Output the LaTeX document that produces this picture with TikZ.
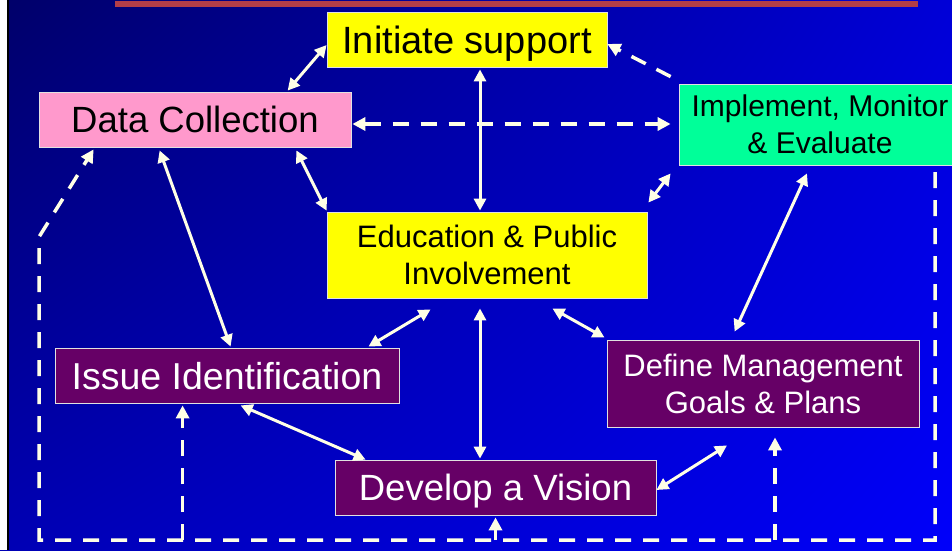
\documentclass[tikz,border=0pt]{standalone}
\usepackage{fontspec}
\setmainfont{Liberation Sans}
\usetikzlibrary{arrows.meta,shadings}
\definecolor{bgTL}{RGB}{0,0,105}
\definecolor{bgTR}{RGB}{0,0,215}
\definecolor{bgBL}{RGB}{0,0,180}
\definecolor{bgBR}{RGB}{0,0,250}
\definecolor{topred}{RGB}{178,62,72}
\definecolor{boxyellow}{RGB}{255,255,0}
\definecolor{boxpink}{RGB}{255,153,204}
\definecolor{boxgreen}{RGB}{0,255,153}
\definecolor{boxpurple}{RGB}{102,0,102}
\definecolor{arrowc}{RGB}{255,255,230}
\definecolor{boxedge}{RGB}{225,225,225}
\begin{document}
\begin{tikzpicture}[x=1pt,y=-1pt,
  box/.style={draw=boxedge,line width=0.8pt,inner sep=0pt,align=center},
  bigfont/.style={font=\fontsize{36.5}{42}\selectfont,text height=26pt,text depth=0pt},
  midfont/.style={font=\fontsize{#1}{37}\selectfont},
  link/.style={draw=arrowc,line width=3pt,{Triangle[length=12pt,width=12pt]}-{Triangle[length=12pt,width=12pt]}},
  dlink/.style={draw=arrowc,line width=3.5pt,dash pattern=on 16pt off 12pt,-{Triangle[length=13pt,width=13pt]}},
  dlinkboth/.style={draw=arrowc,line width=3.5pt,dash pattern=on 16pt off 12pt,{Triangle[length=13pt,width=13pt]}-{Triangle[length=13pt,width=13pt]}}]
\useasboundingbox (0,0) rectangle (952,550);
\clip (0,0) rectangle (952,550);
\shade[upper left=bgTL,upper right=bgTR,lower left=bgBL,lower right=bgBR] (0,0) rectangle (952,550);
\fill[white] (0,0) rectangle (7,550);
\fill[black] (7,0) rectangle (9,550);
\draw[topred,line width=6pt] (115,4) -- (918,4);

\node[box,fill=boxyellow,font=\fontsize{38}{42}\selectfont,text height=27pt,text depth=0pt,minimum width=280pt,minimum height=55pt] (init) at (467,39.5) {Initiate support};
\node[box,fill=boxpink,bigfont,minimum width=312pt,minimum height=55pt] (data) at (195,119.5) {Data Collection};
\node[box,fill=boxgreen,midfont=30,minimum width=282pt,minimum height=81pt] (impl) at (820,124.5) {Implement, Monitor\\\& Evaluate};
\node[box,fill=boxyellow,midfont=31,minimum width=320pt,minimum height=86pt] (edu) at (487,255) {Education \& Public\\Involvement};
\node[box,fill=boxpurple,text=white,font=\fontsize{37.5}{42}\selectfont,text height=27pt,text depth=0pt,minimum width=344pt,minimum height=55pt] (issue) at (227,375.5) {Issue Identification};
\node[box,fill=boxpurple,text=white,midfont=31,minimum width=312pt,minimum height=87pt] (define) at (763,383.5) {Define Management\\Goals \& Plans};
\node[box,fill=boxpurple,text=white,bigfont,minimum width=321pt,minimum height=55pt] (vision) at (495.5,487.5) {Develop a Vision};

% solid two-way connectors
\draw[link] ([shift={(0,5.5)}]init.west) -- ([shift={(249,-1)}]data.north west);
\draw[link] ([shift={(13,2)}]init.south) -- ([shift={(-7,-1)}]edu.north);
\draw[link] ([shift={(-55,3)}]data.south east) -- ([shift={(0,-1)}]edu.north west);
\draw[link] ([shift={(121,3)}]data.south west) -- ([shift={(176,-1)}]issue.north west);
\draw[link] ([shift={(1,-9)}]edu.north east) -- ([shift={(-8,8)}]impl.south west);
\draw[link] ([shift={(128,-8)}]define.north west) -- ([shift={(-13,8)}]impl.south);
\draw[link] ([shift={(104,11)}]edu.south west) -- ([shift={(-31,-1)}]issue.north east);
\draw[link] ([shift={(-7,10)}]edu.south) -- ([shift={(-15.5,-1)}]vision.north);
\draw[link] ([shift={(-95,10)}]edu.south east) -- ([shift={(-2,-2)}]define.north west);
\draw[link] ([shift={(186,2)}]issue.south west) -- ([shift={(31,0)}]vision.north west);
\draw[link] ([shift={(0,2.5)}]vision.east) -- ([shift={(-36,18)}]define.south);

% dashed connectors
\draw[dlinkboth] ([shift={(1,4.5)}]data.east) -- ([shift={(-8,-0.5)}]impl.west);
\draw[dlink] ([shift={(-8,-7)}]impl.north west) -- ([shift={(0,4.5)}]init.east);

% feedback loop
\coordinate (fbR) at (935,172);
\coordinate (fbBR) at (935,540);
\coordinate (fbBL) at (39,540);
\coordinate (fbL) at (39,237);
\draw[dlink] (fbR) -- (fbBR) -- (fbBL) -- (fbL) -- ([shift={(55,2)}]data.south west);
\path ([shift={(128,2)}]issue.south west) coordinate (tIssue);
\draw[dlink] (tIssue |- fbBL) -- (tIssue);
\path ([shift={(0,2)}]vision.south) coordinate (tVision);
\draw[dlink] (tVision |- fbBL) -- (tVision);
\path ([shift={(12,10)}]define.south) coordinate (tDefine);
\draw[dlink] (tDefine |- fbBL) -- (tDefine);
\end{tikzpicture}
\end{document}
